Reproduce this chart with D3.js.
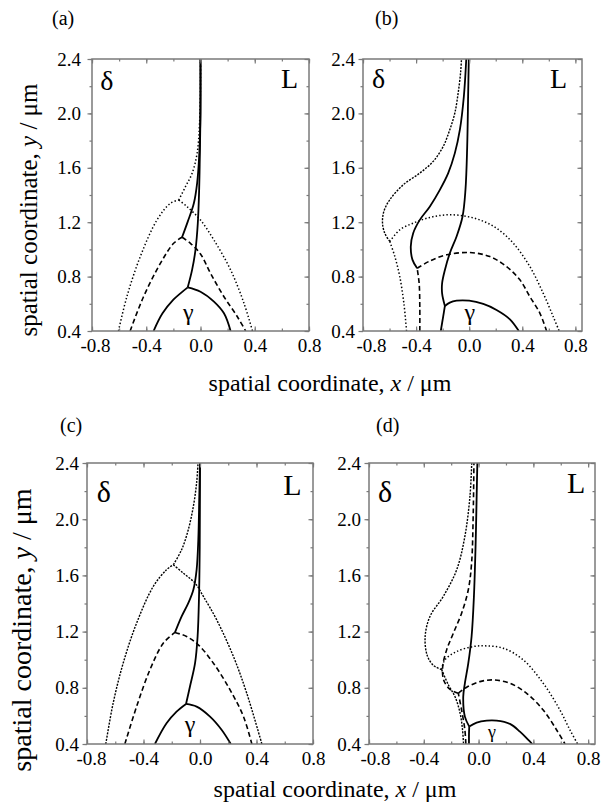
<!DOCTYPE html>
<html><head><meta charset="utf-8">
<script src="https://cdn.jsdelivr.net/npm/d3@7"></script>
<style>
body{margin:0;background:#fff;}
svg{display:block;}
text{font-family:"Liberation Serif","Times New Roman",serif;fill:#000;}
</style></head>
<body>
<svg id="chart" width="603" height="805"></svg>
<script>
// ---------- data ----------
const xTickValues = [-0.8, -0.4, 0.0, 0.4, 0.8];
const xMinorValues = [-0.8, -0.6, -0.4, -0.2, 0.0, 0.2, 0.4, 0.6, 0.8];
const yTickValues = [0.4, 0.8, 1.2, 1.6, 2.0, 2.4];
const yMinorValues = [0.4, 0.6, 0.8, 1.0, 1.2, 1.4, 1.6, 1.8, 2.0, 2.2, 2.4];
const panelNames = ["(a)", "(b)", "(c)", "(d)"];

// panel (a)
const a_solid_left  = [[-0.346,0.4],[-0.28,0.53],[-0.2,0.63],[-0.148,0.677],[-0.094,0.721]];
const a_solid_right = [[-0.094,0.721],[0,0.689],[0.099,0.616],[0.173,0.53],[0.222,0.4]];
const a_solid_up    = [[-0.094,0.721],[-0.062,0.849],[-0.037,0.996],[-0.02,1.19],[-0.01,1.437],[-0.005,1.68],[0,2.0],[0,2.4]];
const a_dash_left   = [[-0.519,0.4],[-0.42,0.652],[-0.296,0.897],[-0.198,1.045],[-0.136,1.089]];
const a_dash_right  = [[-0.136,1.089],[-0.074,1.045],[0,0.966],[0.074,0.824],[0.173,0.652],[0.272,0.505],[0.333,0.4]];
const a_dash_up     = [[-0.136,1.089],[-0.094,1.204],[-0.049,1.339],[-0.025,1.486],[-0.01,1.68],[-0.002,1.93],[0,2.4]];
const a_dot_left    = [[-0.605,0.4],[-0.543,0.652],[-0.444,0.947],[-0.321,1.216],[-0.222,1.339],[-0.16,1.363]];
const a_dot_right   = [[-0.16,1.363],[-0.099,1.314],[0,1.216],[0.099,1.069],[0.222,0.849],[0.321,0.603],[0.383,0.4]];
const a_dot_up      = [[-0.16,1.363],[-0.111,1.461],[-0.062,1.559],[-0.025,1.706],[-0.007,1.927],[0,2.245],[0,2.4]];

// panel (b)
const b_solid_low   = [[-0.214,0.4],[-0.196,0.506],[-0.183,0.584]];
const b_solid_right = [[-0.183,0.584],[-0.146,0.609],[-0.095,0.623],[0,0.623],[0.106,0.599],[0.206,0.555],[0.307,0.486],[0.374,0.4]];
const b_solid_up    = [[-0.183,0.584],[-0.204,0.677],[-0.204,0.751],[-0.183,0.849],[-0.146,0.972],[-0.095,1.095],[-0.05,1.242],[-0.028,1.438],[-0.015,1.757],[-0.008,2.126],[-0.003,2.4]];
const b_dash_low    = [[-0.372,0.4],[-0.372,0.579],[-0.377,0.751],[-0.392,0.861]];
const b_dash_right  = [[-0.392,0.861],[-0.296,0.915],[-0.171,0.96],[0.005,0.977],[0.156,0.947],[0.281,0.874],[0.382,0.776],[0.457,0.653],[0.533,0.53],[0.583,0.4]];
const b_dash_up     = [[-0.392,0.861],[-0.427,0.923],[-0.44,1.021],[-0.422,1.119],[-0.372,1.217],[-0.296,1.316],[-0.221,1.438],[-0.158,1.561],[-0.108,1.708],[-0.07,1.88],[-0.04,2.126],[-0.022,2.4]];
const b_dot_low     = [[-0.472,0.4],[-0.492,0.604],[-0.523,0.8],[-0.56,0.947],[-0.598,1.058]];
const b_dot_right   = [[-0.598,1.058],[-0.523,1.144],[-0.422,1.193],[-0.296,1.235],[-0.171,1.254],[-0.045,1.247],[0.08,1.217],[0.206,1.156],[0.332,1.046],[0.457,0.874],[0.558,0.677],[0.633,0.506],[0.678,0.4]];
const b_dot_up      = [[-0.598,1.058],[-0.636,1.119],[-0.653,1.193],[-0.643,1.279],[-0.598,1.365],[-0.497,1.475],[-0.372,1.561],[-0.271,1.647],[-0.196,1.757],[-0.146,1.88],[-0.108,2.003],[-0.083,2.15],[-0.065,2.297],[-0.058,2.4]];

// panel (c)
const c_solid_left  = [[-0.319,0.4],[-0.237,0.547],[-0.166,0.63],[-0.099,0.685]];
const c_solid_right = [[-0.099,0.685],[-0.024,0.666],[0.071,0.595],[0.154,0.5],[0.218,0.4]];
const c_solid_up    = [[-0.099,0.685],[-0.071,0.809],[-0.035,0.975],[-0.017,1.165],[-0.007,1.45],[-0.002,1.806],[0,2.4]];
const c_dash_left   = [[-0.532,0.4],[-0.449,0.666],[-0.355,0.927],[-0.26,1.117],[-0.177,1.194]];
const c_dash_right  = [[-0.177,1.194],[-0.095,1.165],[-0.012,1.106],[0.095,0.975],[0.213,0.785],[0.308,0.595],[0.367,0.4]];
const c_dash_up     = [[-0.177,1.194],[-0.13,1.308],[-0.083,1.403],[-0.047,1.498],[-0.024,1.64],[-0.012,1.854],[-0.005,2.163],[0,2.4]];
const c_dot_left    = [[-0.667,0.4],[-0.615,0.69],[-0.544,0.975],[-0.449,1.26],[-0.331,1.521],[-0.237,1.64],[-0.189,1.676]];
const c_dot_right   = [[-0.189,1.676],[-0.118,1.616],[-0.035,1.545],[0.024,1.45],[0.118,1.284],[0.237,1.022],[0.331,0.761],[0.438,0.4]];
const c_dot_up      = [[-0.189,1.676],[-0.13,1.783],[-0.083,1.925],[-0.047,2.092],[-0.024,2.258],[-0.014,2.4]];

// panel (d)
const d_solid_low   = [[-0.07,0.4],[-0.07,0.47],[-0.068,0.524]];
const d_solid_right = [[-0.068,0.524],[-0.014,0.552],[0.059,0.566],[0.132,0.566],[0.229,0.543],[0.302,0.488],[0.363,0.429],[0.392,0.4]];
const d_solid_up    = [[-0.068,0.524],[-0.1,0.595],[-0.112,0.737],[-0.1,0.832],[-0.075,0.975],[-0.051,1.165],[-0.034,1.45],[-0.022,1.806],[-0.014,2.163],[-0.009,2.4]];
const d_dash_low    = [[-0.093,0.4],[-0.1,0.5],[-0.124,0.642],[-0.148,0.761]];
const d_dash_right  = [[-0.148,0.761],[-0.087,0.804],[0.01,0.844],[0.107,0.856],[0.229,0.832],[0.351,0.761],[0.472,0.642],[0.57,0.5],[0.631,0.4]];
const d_dash_up     = [[-0.148,0.761],[-0.21,0.79],[-0.255,0.856],[-0.262,0.951],[-0.233,1.07],[-0.184,1.189],[-0.124,1.331],[-0.075,1.498],[-0.051,1.688],[-0.039,2.044],[-0.034,2.4]];
const d_dot_low     = [[-0.27,0.93],[-0.22,0.82],[-0.172,0.737],[-0.135,0.62],[-0.117,0.5],[-0.11,0.4]];
const d_dot_right   = [[-0.27,0.93],[-0.245,1.0],[-0.16,1.058],[-0.039,1.094],[0.059,1.098],[0.18,1.082],[0.326,0.999],[0.472,0.832],[0.594,0.642],[0.667,0.5],[0.723,0.4]];
const d_dot_up      = [[-0.27,0.93],[-0.33,0.96],[-0.375,1.03],[-0.39,1.165],[-0.355,1.308],[-0.258,1.45],[-0.16,1.64],[-0.1,1.878],[-0.063,2.163],[-0.05,2.4]];

// phase labels [text, x, y]
const a_phase = [["δ",-0.74,2.17],["L",0.593,2.19],["γ",-0.09,0.48]];
const b_phase = [["δ",-0.733,2.19],["L",0.608,2.19],["γ",0.005,0.48]];
const c_phase = [["δ",-0.731,2.125],["L",0.589,2.175],["γ",-0.071,0.486]];
const d_phase = [["δ",-0.734,2.125],["L",0.645,2.19],["γ",0.098,0.443]];

// ---------- layout ----------
const styles = {
  solid:  {w:1.8, dash:null},
  dashed: {w:1.6, dash:"5,3"},
  dotted: {w:1.5, dash:"1.4,2.2"},
  fine:   {w:1.4, dash:"2,1.3"}
};
const panels = [
  {name:panelNames[0], x0:92, x1:309, y0:59, y1:331, xd:[-0.8,0.8], lab:[52,25], ylabPad:11, firstShift:3, phaseFs:[28,28,24],
   curves:[[a_solid_left,"solid"],[a_solid_right,"solid"],[a_solid_up,"solid"],[a_dash_left,"dashed"],[a_dash_right,"dashed"],[a_dash_up,"solid"],[a_dot_left,"dotted"],[a_dot_right,"dotted"],[a_dot_up,"dotted"]],
   phase:a_phase},
  {name:panelNames[1], x0:363, x1:582, y0:59, y1:331, xd:[-0.8,0.85], lab:[375,25], ylabPad:8, firstShift:8, phaseFs:[28,28,24],
   curves:[[b_solid_low,"solid"],[b_solid_right,"solid"],[b_solid_up,"solid"],[b_dash_low,"dashed"],[b_dash_right,"dashed"],[b_dash_up,"solid"],[b_dot_low,"dotted"],[b_dot_right,"dotted"],[b_dot_up,"fine"]],
   phase:b_phase},
  {name:panelNames[2], x0:87, x1:313, y0:463, y1:744, xd:[-0.8,0.8], lab:[60,432], ylabPad:8, firstShift:4, phaseFs:[30,30,24],
   curves:[[c_solid_left,"solid"],[c_solid_right,"solid"],[c_solid_up,"solid"],[c_dash_left,"dashed"],[c_dash_right,"dashed"],[c_dash_up,"solid"],[c_dot_left,"fine"],[c_dot_right,"fine"],[c_dot_up,"fine"]],
   phase:c_phase},
  {name:panelNames[3], x0:369, x1:595, y0:463, y1:744, xd:[-0.8,0.85], lab:[376,432], ylabPad:8, firstShift:6, phaseFs:[30,30,18],
   curves:[[d_solid_low,"solid"],[d_solid_right,"solid"],[d_solid_up,"solid"],[d_dash_low,"dashed"],[d_dash_right,"dashed"],[d_dash_up,"dashed"],[d_dot_low,"fine"],[d_dot_right,"dotted"],[d_dot_up,"fine"]],
   phase:d_phase}
];

const svg = d3.select("#chart");
const frameColor = "#7a7a7a";
const serif = '"Liberation Serif","Times New Roman",serif';

panels.forEach(p => {
  const x = d3.scaleLinear().domain(p.xd).range([p.x0, p.x1]);
  const y = d3.scaleLinear().domain([0.4, 2.4]).range([p.y1, p.y0]);
  const g = svg.append("g");

  const cid = "clip" + p.name.replace(/\W/g,"");
  svg.append("clipPath").attr("id", cid).append("rect")
    .attr("x", p.x0).attr("y", p.y0).attr("width", p.x1 - p.x0).attr("height", p.y1 - p.y0);

  // curves
  const line = d3.line().x(d => x(d[0])).y(d => y(d[1])).curve(d3.curveCatmullRom.alpha(0.5));
  const cg = g.append("g").attr("clip-path", `url(#${cid})`);
  p.curves.forEach(([data, st]) => {
    const s = styles[st];
    cg.append("path").attr("d", line(data)).attr("fill", "none")
      .attr("stroke", "#000").attr("stroke-width", s.w)
      .attr("stroke-dasharray", s.dash).attr("stroke-linejoin","round");
  });

  // ticks
  const mk = (axis, sel, vals, size) => {
    const a = axis.tickValues(vals).tickSize(size).tickFormat("");
    const gg = g.append("g").attr("transform", sel).call(a);
    gg.select(".domain").remove();
    gg.selectAll("line").attr("stroke", frameColor).attr("stroke-width", 1.2);
    return gg;
  };
  mk(d3.axisLeft(y), `translate(${p.x0},0)`, yMinorValues, 2.5);
  mk(d3.axisLeft(y), `translate(${p.x0},0)`, yTickValues, 4.5);
  mk(d3.axisLeft(y), `translate(${p.x1},0)`, yMinorValues, 2.5);
  mk(d3.axisLeft(y), `translate(${p.x1},0)`, yTickValues, 4.5);
  mk(d3.axisBottom(x), `translate(0,${p.y1})`, xMinorValues, -2.5);
  mk(d3.axisBottom(x), `translate(0,${p.y1})`, xTickValues, -4.5);
  mk(d3.axisTop(x), `translate(0,${p.y0})`, xMinorValues, -2.5);
  mk(d3.axisTop(x), `translate(0,${p.y0})`, xTickValues, -4.5);

  // frame
  g.append("rect").attr("x", p.x0).attr("y", p.y0).attr("width", p.x1 - p.x0).attr("height", p.y1 - p.y0)
    .attr("fill", "none").attr("stroke", frameColor).attr("stroke-width", 1.5);

  // tick labels
  const fmt = v => d3.format(".1f")(v).replace("\u2212", "-");
  const yl = d3.axisLeft(y).tickValues(yTickValues).tickSize(0).tickPadding(p.ylabPad).tickFormat(fmt);
  const ylg = g.append("g").attr("transform", `translate(${p.x0},0)`).call(yl);
  ylg.select(".domain").remove();
  ylg.attr("font-family", serif);
  ylg.selectAll("text").attr("font-size", 19).attr("fill", "#000");
  const xl = d3.axisBottom(x).tickValues(xTickValues).tickSize(0).tickPadding(8).tickFormat(fmt);
  const xlg = g.append("g").attr("transform", `translate(0,${p.y1})`).call(xl);
  xlg.select(".domain").remove();
  xlg.attr("font-family", serif);
  xlg.selectAll("text").attr("font-size", 19).attr("fill", "#000")
    .attr("dx", (d, i) => i === 0 ? p.firstShift : 0);

  // panel label
  g.append("text").attr("x", p.lab[0]).attr("y", p.lab[1]).attr("font-size", 20).text(p.name);

  // phase labels
  p.phase.forEach(([t, px, py], i) => {
    g.append("text").attr("x", x(px)).attr("y", y(py))
      .attr("font-size", p.phaseFs[i])
      .attr("text-anchor", i === 2 ? "middle" : "start").text(t);
  });
});

// axis titles
[[330, 391], [335, 797]].forEach(([tx, ty]) => {
  const t = svg.append("text").attr("x", tx).attr("y", ty).attr("text-anchor", "middle").attr("font-size", 24);
  t.append("tspan").text("spatial coordinate, ");
  t.append("tspan").attr("font-style", "italic").text("x");
  t.append("tspan").text(" / μm");
});

[[37, 210, 25], [31, 630, 28]].forEach(([tx, ty, fs]) => {
  const t = svg.append("text").attr("transform", `translate(${tx},${ty}) rotate(-90)`)
    .attr("text-anchor", "middle").attr("font-size", fs);
  t.append("tspan").text("spatial coordinate, ");
  t.append("tspan").attr("font-style", "italic").text("y");
  t.append("tspan").text(" / μm");
});
</script>
</body></html>
